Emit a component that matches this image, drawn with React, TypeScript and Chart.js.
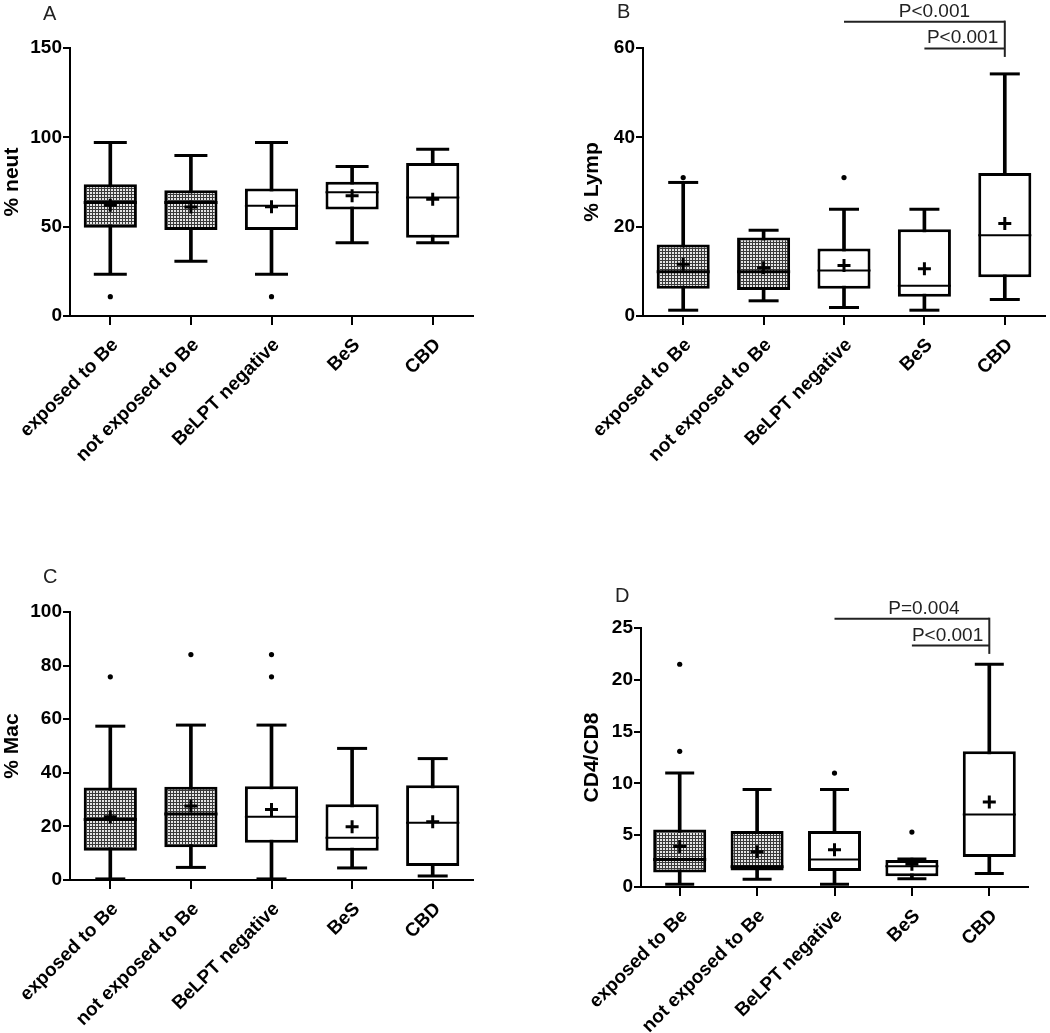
import React, { useEffect, useRef } from 'react';
import { Chart, registerables } from 'chart.js';

Chart.register(...registerables);

const FONT = '"Liberation Sans", Arial, Helvetica, sans-serif';
Chart.defaults.font.family = FONT;
Chart.defaults.color = '#000';

const categories = ['exposed to Be', 'not exposed to Be', 'BeLPT negative', 'BeS', 'CBD'];
const shaded = [true, true, false, false, false];

// Panel A: % neut
const neutMin = [23.3, 30.7, 23.3, 41.0, 41.0];
const neutQ1 = [49.4, 48.1, 48.1, 59.6, 43.8];
const neutMedian = [63.5, 63.5, 61.7, 69.3, 66.3];
const neutQ3 = [73.8, 70.4, 71.4, 75.1, 85.7];
const neutMax = [97.1, 89.8, 97.1, 83.7, 93.4];
const neutMean = [62.0, 61.0, 61.1, 67.3, 65.4];
const neutOutliers = [[10.8], [], [10.8], [], []];

// Panel B: % Lymp
const lympMin = [1.3, 3.4, 1.9, 1.3, 3.7];
const lympQ1 = [6.1, 5.8, 6.1, 4.3, 8.7];
const lympMedian = [9.9, 9.9, 10.2, 6.8, 18.1];
const lympQ3 = [16.0, 17.6, 15.1, 19.4, 32.0];
const lympMax = [29.9, 19.2, 23.9, 23.9, 54.2];
const lympMean = [11.6, 10.8, 11.3, 10.6, 20.7];
const lympOutliers = [[31.0], [], [31.0], [], []];
const lympBracketFrom = [2, 3];
const lympBracketTo = 4;
const lympBracketLevel = [65.9, 59.9];
const lympBracketDrop = 58.0;
const lympBracketText = ['P<0.001', 'P<0.001'];

// Panel C: % Mac
const macMin = [0.4, 4.7, 0.4, 4.5, 1.5];
const macQ1 = [10.9, 12.2, 13.9, 10.9, 5.2];
const macMedian = [22.6, 24.6, 23.6, 15.8, 21.4];
const macQ3 = [34.5, 34.8, 35.0, 28.3, 35.4];
const macMax = [57.4, 57.8, 57.8, 49.1, 45.3];
const macMean = [23.6, 27.6, 26.3, 19.9, 21.7];
const macOutliers = [[75.8], [84.1], [84.1, 75.8], [], []];

// Panel D: CD4/CD8
const cdMin = [0.26, 0.74, 0.26, 0.8, 1.3];
const cdQ1 = [1.4, 1.6, 1.55, 1.03, 2.9];
const cdMedian = [2.65, 1.95, 2.65, 2.0, 7.0];
const cdQ3 = [5.55, 5.4, 5.4, 2.6, 13.1];
const cdMax = [11.0, 9.4, 9.4, 2.7, 21.5];
const cdMean = [3.9, 3.4, 3.6, 2.2, 8.2];
const cdOutliers = [[21.5, 13.1], [], [11.0], [5.3], []];
const cdBracketFrom = [2, 3];
const cdBracketTo = 4;
const cdBracketLevel = [25.9, 23.3];
const cdBracketDrop = 22.5;
const cdBracketText = ['P=0.004', 'P<0.001'];

function makePattern(): CanvasPattern | string {
  const c = document.createElement('canvas');
  c.width = 3;
  c.height = 3;
  const g = c.getContext('2d');
  if (!g) return '#888';
  g.fillStyle = '#3a3a3a';
  g.fillRect(0, 0, 3, 3);
  g.fillStyle = '#e4e4e4';
  g.fillRect(0, 0, 2, 2);
  return g.createPattern(c, 'repeat') || '#888';
}

const annotPlugin = {
  id: 'annot',
  afterDraw(chart: any, _args: any, opts: any) {
    const ctx = chart.ctx;
    const xs = chart.scales.x;
    const ys = chart.scales.y;
    ctx.save();
    ctx.fillStyle = '#222';
    ctx.font = '20px ' + FONT;
    ctx.textBaseline = 'alphabetic';
    ctx.textAlign = 'left';
    ctx.fillText(opts.letter, opts.letterX, opts.letterY);
    if (opts.from && opts.from.length) {
      ctx.strokeStyle = '#222';
      ctx.lineWidth = 2;
      ctx.font = '19px ' + FONT;
      const xTo = xs.getPixelForValue(opts.to);
      opts.from.forEach((f: number, i: number) => {
        const x0 = xs.getPixelForValue(f);
        const yy = ys.getPixelForValue(opts.level[i]);
        ctx.beginPath();
        ctx.moveTo(x0, yy);
        ctx.lineTo(xTo, yy);
        ctx.stroke();
        ctx.textAlign = 'center';
        const shift = opts.shift ? opts.shift[i] : 0;
        ctx.fillText(opts.text[i], (x0 + xTo) / 2 + shift, yy - 5);
      });
      ctx.beginPath();
      ctx.moveTo(xTo, ys.getPixelForValue(opts.level[0]) - 1);
      ctx.lineTo(xTo, ys.getPixelForValue(opts.drop));
      ctx.stroke();
    }
    ctx.restore();
  },
};

type PanelProps = {
  left: number; top: number; width: number; height: number;
  padding: { top: number; left: number; right: number; bottom: number };
  yWidth: number; xHeight: number; yMax: number; yStep: number; yTitle: string;
  letter: string; letterX: number; letterY: number; capR: number; barPct: number;
  mins: number[]; q1s: number[]; medians: number[]; q3s: number[]; maxs: number[];
  means: number[]; outliers: number[][];
  bracketFrom?: number[]; bracketTo?: number; bracketLevel?: number[];
  bracketDrop?: number; bracketText?: string[]; textShift?: number[];
};

function Panel(p: PanelProps) {
  const ref = useRef<HTMLCanvasElement | null>(null);
  useEffect(() => {
    if (!ref.current) return;
    const pattern = makePattern();
    const catWidth = (p.width - p.padding.left - p.yWidth - p.padding.right) / categories.length;
    const boxHalf = (catWidth * p.barPct) / 2;
    const capData: any[] = [];
    p.mins.forEach((v, i) => capData.push({ x: categories[i], y: v }));
    p.maxs.forEach((v, i) => capData.push({ x: categories[i], y: v }));
    const outData: any[] = [];
    p.outliers.forEach((arr, i) => arr.forEach((v) => outData.push({ x: categories[i], y: v })));
    const chart = new Chart(ref.current, {
      type: 'bar',
      data: {
        labels: categories,
        datasets: [
          {
            type: 'bar',
            data: p.mins.map((m, i) => [m, p.maxs[i]]),
            backgroundColor: '#000',
            borderWidth: 0,
            barThickness: 3,
            grouped: false,
            order: 10,
          } as any,
          {
            type: 'bar',
            data: p.q1s.map((q, i) => [q, p.q3s[i]]),
            backgroundColor: shaded.map((s) => (s ? pattern : '#fff')),
            borderColor: '#000',
            borderWidth: 3,
            borderSkipped: false,
            barPercentage: p.barPct,
            categoryPercentage: 1,
            grouped: false,
            order: 9,
          } as any,
          {
            type: 'line',
            data: p.medians,
            showLine: false,
            pointStyle: 'line',
            pointRadius: boxHalf,
            pointBorderWidth: shaded.map((s) => (s ? 3 : 2)),
            pointBorderColor: '#000',
            order: 3,
          } as any,
          {
            type: 'line',
            data: capData,
            showLine: false,
            pointStyle: 'line',
            pointRadius: p.capR,
            pointBorderWidth: 3,
            pointBorderColor: '#000',
            order: 3,
          } as any,
          {
            type: 'line',
            data: p.means,
            showLine: false,
            pointStyle: 'cross',
            pointRadius: 6.5,
            pointBorderWidth: 3,
            pointBorderColor: '#000',
            order: 1,
          } as any,
          {
            type: 'line',
            data: outData,
            showLine: false,
            pointStyle: 'circle',
            pointRadius: 2.6,
            pointBorderWidth: 0,
            pointBackgroundColor: '#000',
            order: 1,
          } as any,
        ],
      },
      options: {
        responsive: false,
        animation: false,
        devicePixelRatio: 1,
        layout: { padding: p.padding },
        plugins: {
          legend: { display: false },
          tooltip: { enabled: false },
          annot: {
            letter: p.letter, letterX: p.letterX, letterY: p.letterY,
            from: p.bracketFrom, to: p.bracketTo, level: p.bracketLevel,
            drop: p.bracketDrop, text: p.bracketText, shift: p.textShift,
          },
        } as any,
        scales: {
          x: {
            type: 'category',
            offset: true,
            grid: {
              display: true, drawOnChartArea: false, drawTicks: true, tickLength: 9,
              color: '#000', lineWidth: 2, offset: false,
            },
            border: { display: true, color: '#000', width: 2 },
            ticks: {
              color: '#000', autoSkip: false, maxRotation: 45, minRotation: 45, padding: 9,
              labelOffset: 5,
              font: { family: FONT, size: 19, weight: 'bold' },
            },
            afterFit: (s: any) => {
              s.height = p.xHeight;
            },
          } as any,
          y: {
            type: 'linear',
            min: 0,
            max: p.yMax,
            grid: {
              display: true, drawOnChartArea: false, drawTicks: true, tickLength: 7,
              color: '#000', lineWidth: 2,
            },
            border: { display: true, color: '#000', width: 2 },
            ticks: {
              stepSize: p.yStep, color: '#000', padding: 1,
              font: { family: FONT, size: 19, weight: 'bold' },
            },
            title: {
              display: true, text: p.yTitle, color: '#000', padding: 0,
              font: { family: FONT, size: 21, weight: 'bold' },
            },
            afterFit: (s: any) => {
              s.width = p.yWidth;
            },
          } as any,
        },
      },
      plugins: [annotPlugin as any],
    });
    return () => chart.destroy();
  }, []);
  return (
    <canvas
      ref={ref}
      width={p.width}
      height={p.height}
      style={{ position: 'absolute', left: p.left, top: p.top, width: p.width, height: p.height }}
    />
  );
}

export default function App() {
  return (
    <div style={{ position: 'absolute', left: 0, top: 0, width: 1050, height: 1033, background: '#fff', overflow: 'hidden' }}>
      <Panel
        left={0} top={0} width={525} height={500}
        padding={{ top: 48, left: 0, right: 52, bottom: 0 }}
        yWidth={70} xHeight={184} yMax={150} yStep={50} yTitle="% neut"
        letter="A" letterX={43} letterY={20} capR={16.5} barPct={0.66}
        mins={neutMin} q1s={neutQ1} medians={neutMedian} q3s={neutQ3} maxs={neutMax}
        means={neutMean} outliers={neutOutliers}
      />
      <Panel
        left={525} top={0} width={552} height={500}
        padding={{ top: 48, left: 55, right: 32, bottom: 0 }}
        yWidth={63} xHeight={184} yMax={60} yStep={20} yTitle="% Lymp"
        letter="B" letterX={92} letterY={18} capR={15} barPct={0.66}
        mins={lympMin} q1s={lympQ1} medians={lympMedian} q3s={lympQ3} maxs={lympMax}
        means={lympMean} outliers={lympOutliers}
        bracketFrom={lympBracketFrom} bracketTo={lympBracketTo} bracketLevel={lympBracketLevel}
        bracketDrop={lympBracketDrop} bracketText={lympBracketText} textShift={[10, -2]}
      />
      <Panel
        left={0} top={500} width={525} height={533}
        padding={{ top: 112, left: 0, right: 52, bottom: 0 }}
        yWidth={70} xHeight={153} yMax={100} yStep={20} yTitle="% Mac"
        letter="C" letterX={43} letterY={83} capR={15} barPct={0.66}
        mins={macMin} q1s={macQ1} medians={macMedian} q3s={macQ3} maxs={macMax}
        means={macMean} outliers={macOutliers}
      />
      <Panel
        left={525} top={500} width={535} height={533}
        padding={{ top: 128, left: 55, right: 32, bottom: 0 }}
        yWidth={61} xHeight={146} yMax={25} yStep={5} yTitle="CD4/CD8"
        letter="D" letterX={90} letterY={102} capR={14.5} barPct={0.685}
        mins={cdMin} q1s={cdQ1} medians={cdMedian} q3s={cdQ3} maxs={cdMax}
        means={cdMean} outliers={cdOutliers}
        bracketFrom={cdBracketFrom} bracketTo={cdBracketTo} bracketLevel={cdBracketLevel}
        bracketDrop={cdBracketDrop} bracketText={cdBracketText} textShift={[12, -3]}
      />
    </div>
  );
}
